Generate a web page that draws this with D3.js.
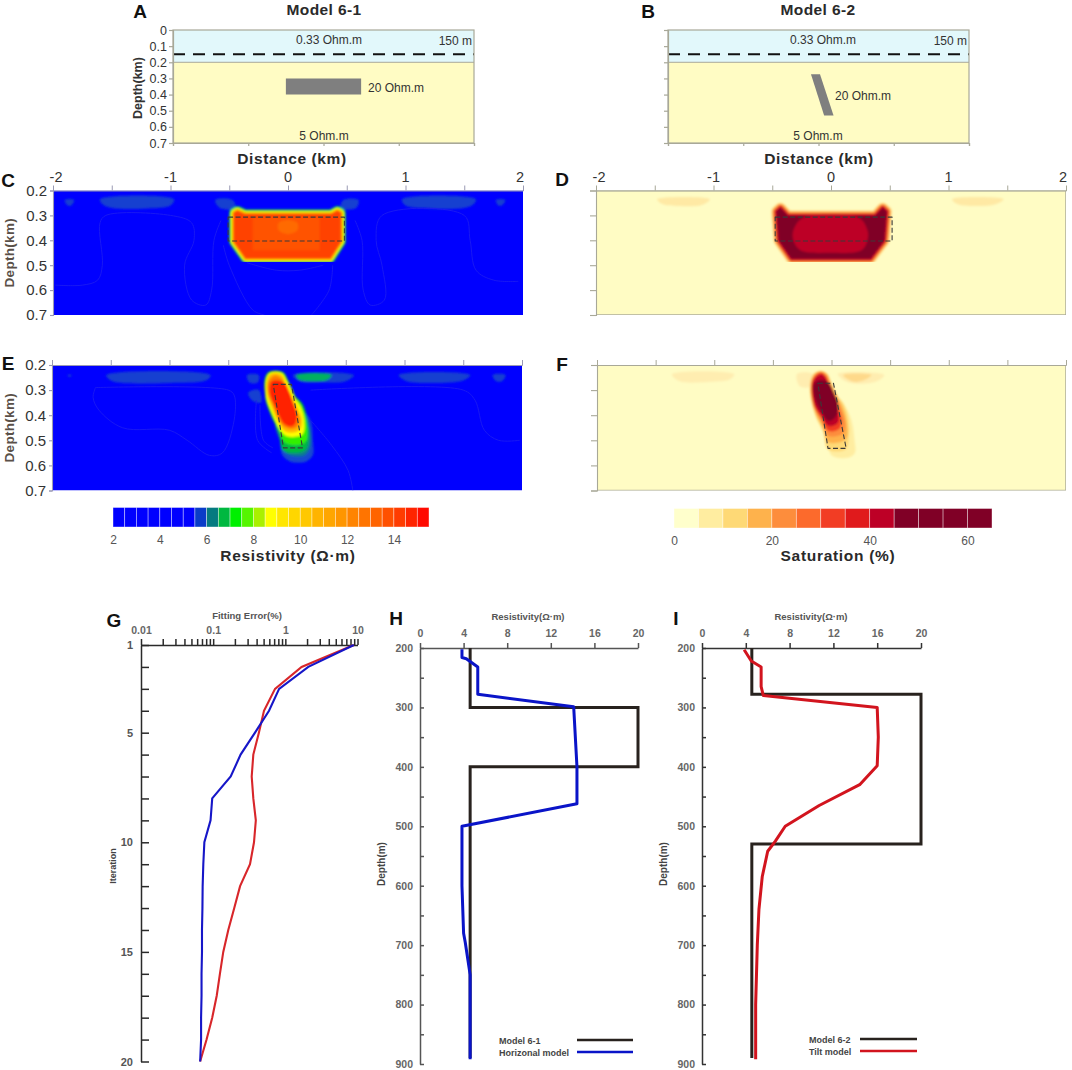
<!DOCTYPE html>
<html><head><meta charset="utf-8">
<script src="https://cdnjs.cloudflare.com/ajax/libs/d3/7.8.5/d3.min.js"></script>
<style>html,body{margin:0;background:#fff}svg{display:block}text{font-family:"Liberation Sans",Arial,sans-serif}</style>
</head><body><svg id="c" width="1072" height="1070"></svg>
<script>
// ---------- data ----------
const depthTicksTop=[0,0.1,0.2,0.3,0.4,0.5,0.6,0.7];
const depthTicksMid=[0.2,0.3,0.4,0.5,0.6,0.7];
const distLabels=[-2,-1,0,1,2];
const distTicks=[-1.5,-1,-0.5,0,0.5,1,1.5];
const modelA=[[-0.5,0.3],[0.5,0.3],[0.5,0.4],[-0.5,0.4]];
const modelB=[[-0.1,0.274],[0.02,0.274],[0.2,0.53],[0.075,0.53]];

const resBins=[2,2.5,3,3.5,4,4.5,5,5.5,6,6.5,7,7.5,8,8.5,9,9.5,10,10.5,11,11.5,12,12.5,13,13.5,14,14.5,15];
const resColors=["#0000ff","#0000ff","#0000ff","#0000ff","#0000ff","#0000ff","#0000ff","#0a3cc8","#057a80","#00b840","#00f000","#55f500","#aaf000","#ffff00","#ffe600","#ffd600","#ffc800","#ffb400","#ffa600","#ff9600","#ff8400","#ff7400","#ff6400","#ff5000","#ff3c00","#ff2400","#ff0a00"];
const resLabels=[2,4,6,8,10,12,14];
const satBins=[0,5,10,15,20,25,30,35,40,45,50,55,60];
const satColors=["#ffffcc","#ffeda0","#fed976","#feb24c","#fd8d3c","#fc6a2c","#f23d24","#e01a1c","#bd0026","#800026","#800026","#800026","#800026"];
const satLabels=[0,20,40,60];

const lensC=[[[-1.9,.238],[-1.82,.238],[-1.85,.262],[-1.88,.258]],
 [[-1.6,.235],[-0.97,.235],[-1.0,.26],[-1.2,.272],[-1.5,.27],[-1.58,.255]],
 [[-0.62,.238],[-0.47,.238],[-0.45,.27],[-0.58,.27]],
 [[0.47,.238],[0.6,.238],[0.58,.27],[0.45,.27]],
 [[0.97,.235],[1.6,.235],[1.58,.255],[1.5,.27],[1.2,.272],[1.0,.26]],
 [[1.77,.238],[1.85,.238],[1.82,.26],[1.79,.26]]];
const coreC=[[-.46,.29],[-.43,.282],[-.37,.295],[.37,.295],[.42,.282],[.45,.29],[.45,.405],[.36,.472],[-.36,.472],[-.46,.405]];
const innerC=[[-.3,.307],[.27,.307],[.27,.44],[-.3,.44]];
const spotC=[[-.08,.33],[0,.318],[.08,.33],[.08,.36],[0,.375],[-.08,.36]];
const coreCBands=[[10,"#00907a"],[8.5,"#00d040"],[7,"#77ff00"],[5.5,"#ffff00"],[4,"#ffc400"],[2.5,"#ff8800"]];
const rectC=[[-.51,.307],[.48,.307],[.48,.403],[-.51,.403]];
const faintC=[
 [[-1.98,.58],[-1.75,.58],[-1.62,.56],[-1.58,.5],[-1.6,.33],[-1.55,.3],[-1,.3],[-.82,.33],[-.8,.4],[-.88,.5],[-.82,.64],[-.7,.66],[-.65,.6],[-.63,.4],[-.57,.32]],
 [[.57,.32],[.63,.4],[.64,.6],[.7,.66],[.82,.64],[.8,.5],[.75,.4],[.8,.3],[1.5,.3],[1.55,.4],[1.6,.52],[1.75,.56],[1.96,.565]],
 [[-.55,.42],[-.5,.5],[-.3,.68],[-.2,.7]],[[.38,.5],[.35,.6],[.2,.7]],[[-.35,.49],[-.1,.52],[.1,.52],[.3,.5]]];
const lensE=[[[-1.87,.24],[-1.83,.24],[-1.85,.248]],
 [[-1.54,.24],[-.65,.24],[-.68,.26],[-1,.272],[-1.4,.272],[-1.5,.262]],
 [[.95,.24],[1.56,.24],[1.5,.262],[1.2,.272],[1.02,.265]],
 [[1.75,.24],[1.86,.24],[1.83,.265],[1.78,.265]],
 [[-.34,.24],[-.24,.24],[-.25,.27],[-.32,.27]],
 [[.05,.24],[.57,.24],[.5,.265],[.3,.27],[.1,.265]],
 [[-.33,.31],[-.24,.3],[-.22,.35],[-.3,.34]]];
const greenE=[[.08,.24],[.38,.24],[.34,.26],[.2,.265],[.1,.258]];
const rectE=[[-.117,.277],[.038,.277],[.132,.53],[-.03,.53]];
const bandE=[
 {c:"#1248d0",g:0,p:[[.03,.34],[.12,.37],[.2,.42],[.22,.5],[.22,.56],[.16,.585],[.03,.585],[-.04,.56],[-.06,.5],[-.1,.42]]},
 {c:"#0c7c90",g:0,p:[[.05,.34],[.12,.38],[.19,.45],[.2,.52],[.15,.56],[.0,.555],[-.04,.52],[-.1,.42]]},
 {c:"#00b840",g:4,p:[[-.10,.23],[-.04,.235],[-.01,.26],[.03,.30],[.06,.33],[.12,.36],[.155,.42],[.165,.5],[.14,.535],[-.02,.535],[-.05,.47],[-.12,.4],[-.165,.34],[-.17,.3],[-.175,.26],[-.15,.235]]},
 {c:"#33f000",g:4,p:[[-.10,.232],[-.045,.238],[-.015,.262],[.025,.30],[.055,.333],[.11,.365],[.145,.42],[.145,.5],[.0,.505],[-.05,.46],[-.12,.39],[-.163,.335],[-.17,.265],[-.145,.238]]},
 {c:"#ffff00",g:4,p:[[-.10,.235],[-.05,.24],[-.02,.265],[.02,.30],[.05,.335],[.10,.37],[.13,.42],[.12,.47],[.0,.475],[-.05,.45],[-.12,.38],[-.16,.33],[-.165,.27],[-.14,.24]]},
 {c:"#ffb800",g:4,p:[[-.10,.24],[-.055,.247],[-.03,.27],[.01,.31],[.04,.34],[.08,.38],[.11,.42],[.09,.455],[.0,.46],[-.05,.43],[-.11,.37],[-.15,.32],[-.155,.27],[-.135,.245]]},
 {c:"#ff7a00",g:4,p:[[-.10,.25],[-.06,.26],[-.035,.28],[.01,.32],[.035,.35],[.07,.39],[.09,.42],[.06,.445],[-.01,.44],[-.06,.41],[-.10,.36],[-.145,.31],[-.145,.27]]},
 {c:"#ff2400",g:4,p:[[-.12,.272],[-.04,.275],[0,.31],[.03,.35],[.065,.40],[.045,.435],[-.01,.43],[-.06,.39],[-.1,.35],[-.13,.31]]}];
const faintE=[
 [[-1.63,.29],[-.5,.3],[-.45,.32],[-.45,.42],[-.55,.55],[-.66,.56],[-.85,.5],[-1.0,.46],[-1.4,.45],[-1.6,.38],[-1.65,.33],[-1.63,.29]],
 [[.2,.3],[1.5,.3],[1.6,.34],[1.68,.46],[1.8,.5],[1.98,.5]],
 [[.2,.42],[.38,.52],[.52,.62],[.56,.7]],
 [[-.26,.34],[-.25,.5],[-.13,.55]],[[-.23,.36],[-.2,.5],[-.12,.53]]];
const lensD=[[[-1.48,.235],[-1.03,.235],[-1.1,.258],[-1.3,.262],[-1.43,.255]],[[1.03,.235],[1.47,.235],[1.4,.255],[1.25,.262],[1.08,.255]]];
const coreD=[[-.46,.285],[-.43,.272],[-.37,.303],[.38,.303],[.44,.272],[.47,.285],[.45,.40],[.335,.472],[-.335,.472],[-.44,.40]];
const coreDBands=[[12,"#ffeda0"],[10,"#feb24c"],[8,"#fd8d3c"],[6,"#ef3b22"],[4,"#c8102a"],[2,"#a00028"]];
const innerD=[[-.24,.31],[-.32,.36],[-.32,.4],[-.26,.44],[0,.45],[.26,.44],[.31,.4],[.31,.36],[.24,.31]];
const rectD=[[-.475,.307],[.52,.307],[.52,.403],[-.475,.403]];
const lensF=[[[-1.36,.237],[-.83,.237],[-.87,.258],[-1.0,.266],[-1.3,.264]],
 [[-.295,.236],[-.16,.236],[-.17,.285],[-.27,.285]],
 [[.054,.236],[.45,.24],[.4,.262],[.25,.275],[.12,.265]]];
const orangeLensF=[[.1,.24],[.34,.24],[.28,.26],[.18,.266]];
const rectF=[[-.116,.273],[.017,.273],[.125,.532],[-.03,.532]];
const bandF=[
 {c:"#ffeda0",g:0,p:[[.04,.33],[.11,.36],[.17,.42],[.196,.5],[.2,.55],[.14,.57],[.0,.56],[-.03,.5],[-.1,.42]]},
 {c:"#fed976",g:4,p:[[-.09,.232],[-.05,.24],[-.02,.27],[.04,.33],[.09,.36],[.13,.42],[.13,.5],[.11,.53],[-.02,.53],[-.05,.47],[-.12,.4],[-.16,.33],[-.165,.27],[-.14,.24]]},
 {c:"#feb24c",g:4,p:[[-.09,.233],[-.05,.242],[-.025,.27],[.035,.33],[.08,.37],[.115,.43],[.11,.49],[-.02,.50],[-.055,.45],[-.12,.39],[-.155,.33],[-.16,.27],[-.135,.242]]},
 {c:"#fd8d3c",g:4,p:[[-.09,.235],[-.055,.245],[-.03,.275],[.03,.335],[.07,.38],[.10,.43],[.09,.465],[-.02,.475],[-.06,.43],[-.12,.38],[-.15,.33],[-.155,.27],[-.13,.245]]},
 {c:"#f23d24",g:4,p:[[-.09,.238],[-.06,.25],[-.035,.28],[.02,.34],[.055,.39],[.07,.425],[.05,.45],[-.02,.455],[-.07,.41],[-.125,.37],[-.148,.33],[-.15,.27],[-.13,.25]]},
 {c:"#bd0026",g:4,p:[[-.09,.245],[-.06,.258],[-.04,.285],[.02,.34],[.04,.39],[.04,.425],[-.02,.435],[-.07,.40],[-.125,.36],[-.145,.32],[-.145,.27]]},
 {c:"#800026",g:4,p:[[-.10,.268],[-.04,.275],[-.0,.31],[.035,.35],[.03,.395],[-.02,.415],[-.06,.39],[-.11,.35],[-.135,.31],[-.135,.28]]}];

const iterTicks=[1,2,3,4,5,6,7,8,9,10,11,12,13,14,15,16,17,18,19,20];
const iterLabels=[1,5,10,15,20];
const errTicks=[.01,.02,.03,.04,.05,.06,.07,.08,.09,.1,.2,.3,.4,.5,.6,.7,.8,.9,1,2,3,4,5,6,7,8,9,10];
const errLabels=[.01,.1,1,10];
const errRed=[8.9,1.68,0.72,0.506,0.43,0.36,0.342,0.36,0.39,0.368,0.324,0.236,0.196,0.162,0.138,0.124,0.112,0.097,0.081,0.066];
const errBlue=[8.9,2.08,0.82,0.594,0.38,0.24,0.175,0.097,0.092,0.0755,0.073,0.0715,0.071,0.07,0.07,0.069,0.069,0.068,0.068,0.066];
const resTicks=[0,4,8,12,16,20];
const depthM=[200,250,300,350,400,450,500,550,600,650,700,750,800,850,900];
const model61=[[4.6,200],[4.6,300],[20,300],[20,400],[4.6,400],[4.6,890]];
const horizontal=[[3.85,202],[3.85,216],[4.25,218],[5.3,232],[5.3,278],[14.1,299],[14.4,400],[14.4,462],[3.85,500],[3.85,600],[4,680],[4.15,695],[4.6,750],[4.6,892]];
const model62=[[4.55,200],[4.55,278],[20,278],[20,530],[4.55,530],[4.55,890]];
const tilt=[[3.85,203],[4.5,222],[5.4,232],[5.4,265],[5.6,280],[16,300],[16.1,350],[16,398],[14.4,430],[10.7,465],[7.6,500],[6.7,525],[6,542],[5.5,585],[5.2,640],[5.05,700],[4.9,800],[4.9,892]];

// ---------- helpers ----------
const svg=d3.select("#c");
const defs=svg.append("defs");
defs.append("filter").attr("id","soft").attr("x","-5%").attr("y","-5%").attr("width","110%").attr("height","110%").append("feGaussianBlur").attr("stdDeviation",0.8);
const TXT="#2a2a2a", GR="#a8a898", PALE="#fffcc4";
function label(x,y,t,o={}){const n=svg.append("text").attr("x",x).attr("y",y).text(t)
 .attr("font-size",o.s||12).attr("font-weight",o.b?"bold":"normal").attr("fill",o.c||TXT)
 .attr("text-anchor",o.a||"middle");
 if(o.ls)n.attr("letter-spacing",o.ls);
 if(o.r)n.attr("transform",`rotate(${o.r} ${x} ${y})`);return n;}
function line(x,y,curve){return d3.line().x(d=>x(d[0])).y(d=>y(d[1])).curve(curve||d3.curveLinear);}
const SMOOTH=d3.curveCatmullRomClosed.alpha(.5);
function poly(g,x,y,p,fill,o={}){return g.append("path").attr("d",line(x,y,o.curve||SMOOTH)(p)).attr("fill",fill).attr("stroke",o.stroke||"none").attr("stroke-width",o.sw||0).attr("stroke-linejoin","round");}
function put(axis,tx,ty,o){const g=svg.append("g").attr("transform",`translate(${tx},${ty})`).call(axis);
 g.selectAll("path,line").attr("stroke",o.c).attr("stroke-width",o.w);
 g.selectAll("text").attr("fill",o.t||TXT).attr("font-size",o.s||11).attr("font-family",'"Liberation Sans",Arial,sans-serif').attr("font-weight",o.b?"bold":"normal");
 return g;}
const fmtOnly=list=>d=>list.includes(d)?String(d):"";

// ---------- A, B ----------
function modelPanel(x0,x1,o){
 const x=d3.scaleLinear().domain([-2,2]).range([x0,x1]);
 const y=d3.scaleLinear().domain([0,.7]).range([30,143]);
 const g=svg.append("g");
 g.append("rect").attr("x",x(-2)).attr("y",y(0)).attr("width",x(2)-x(-2)).attr("height",y(.2)-y(0)).attr("fill","#e2f8fb");
 g.append("rect").attr("x",x(-2)).attr("y",y(.2)).attr("width",x(2)-x(-2)).attr("height",y(.7)-y(.2)).attr("fill",PALE);
 poly(g,x,y,o.rect,"#7f7f7f",{curve:d3.curveLinearClosed});
 g.append("line").attr("x1",x(-2)).attr("x2",x(2)).attr("y1",y(.15)).attr("y2",y(.15)).attr("stroke","#111").attr("stroke-width",2).attr("stroke-dasharray","12 8");
 g.append("rect").attr("x",x(-2)).attr("y",y(0)).attr("width",x(2)-x(-2)).attr("height",y(.7)-y(0)).attr("fill","none").attr("stroke",GR).attr("stroke-width",1.2);
 g.append("line").attr("x1",x(-2)).attr("x2",x(2)).attr("y1",y(.2)).attr("y2",y(.2)).attr("stroke",GR);
 put(d3.axisLeft(y).tickValues(depthTicksTop).tickSize(4).tickPadding(2).tickFormat(o.depthLabels?d=>d:()=>""),x0,0,{c:GR,w:1.2,s:12.5,t:"#333"});
 put(d3.axisBottom(x).tickValues(distLabels).tickSize(3).tickFormat(()=>""),0,143,{c:GR,w:1.2});
 if(o.depthLabels)label(142,88,"Depth(km)",{s:12.5,b:1,r:-90,c:"#333"});
 label(o.tx,15,o.title,{s:15.5,b:1,ls:.4});
 label(o.l33,44,"0.33 Ohm.m",{s:12,c:"#333"});
 label(o.l150,45,"150 m",{s:12,a:"end",c:"#333"});
 label(o.l20x,o.l20y,"20 Ohm.m",{s:12,a:"start",c:"#333"});
 label(o.l5,140,"5 Ohm.m",{s:12,c:"#333"});
 label(o.dx,164,"Distance (km)",{s:15.5,b:1,ls:.6});
}
modelPanel(173,474,{rect:modelA,title:"Model 6-1",tx:324,depthLabels:true,l33:329,l150:472,l20x:368,l20y:92,l5:324,dx:292});
modelPanel(668,969,{rect:modelB,title:"Model 6-2",tx:818,depthLabels:false,l33:823,l150:967,l20x:835,l20y:100,l5:818,dx:819});

// ---------- C D E F ----------
let clipN=0;
function heatPanel(x0,x1,y0,y1,o){
 const x=d3.scaleLinear().domain([-2,2]).range([x0,x1]);
 const y=d3.scaleLinear().domain([.2,.7]).range([y0,y1]);
 const id="clip"+(++clipN);
 defs.append("clipPath").attr("id",id).append("rect").attr("x",x0).attr("y",y0).attr("width",x1-x0).attr("height",y1-y0);
 const outer=svg.append("g").attr("clip-path",`url(#${id})`);
 outer.append("rect").attr("x",x0).attr("y",y0).attr("width",x1-x0).attr("height",y1-y0).attr("fill",o.bg);
 const g=outer.append("g").attr("filter","url(#soft)");
 o.draw(g,x,y,outer);
 const ax=o.axisColor;
 put(d3.axisTop(x).tickValues(distTicks).tickSize(5).tickFormat(()=>""),0,y0,{c:ax,w:1});
 put(d3.axisLeft(y).tickValues(depthTicksMid).tickSize(o.labels?3:6).tickPadding(3).tickFormat(o.labels?d=>d:()=>""),x0,0,{c:ax,w:1.1,s:15,t:"#333"});
 if(o.top)distLabels.forEach(d=>label(Math.min(Math.max(x(d),x0+3),x1-3),182,d,{s:14.5,c:"#333"}));
 if(o.frame)outer.append("rect").attr("x",x0).attr("y",y0).attr("width",x1-x0).attr("height",y1-y0).attr("fill","none").attr("stroke",ax).attr("stroke-width",1.4);
 if(o.labels)label(14,(y0+y1)/2,"Depth(km)",{s:13.5,b:1,r:-90,c:"#5a5048",ls:.3});
 return {x,y};
}
function faint(g,x,y,list){list.forEach(p=>g.append("path").attr("d",line(x,y,d3.curveCatmullRom.alpha(.5))(p)).attr("fill","none").attr("stroke","#1e1ef0").attr("stroke-width",.8));}
function dashed(g,x,y,p){poly(g,x,y,p,"none",{curve:d3.curveLinearClosed,stroke:"#3a3a3a",sw:1.1}).attr("stroke-dasharray","5 2.5");}

heatPanel(53,523,190.5,315,{bg:"#0000ff",axisColor:"#9a9ab4",labels:true,top:true,draw:(g,x,y,outer)=>{
 faint(outer,x,y,faintC);
 lensC.forEach(p=>poly(g,x,y,p,"#1240d0"));
 coreCBands.forEach(b=>poly(g,x,y,coreC,b[1],{curve:d3.curveLinearClosed,stroke:b[1],sw:b[0]}));
 poly(g,x,y,coreC,"#ff4200",{curve:d3.curveLinearClosed,stroke:"#ff5a00",sw:1});
 poly(g,x,y,innerC,"#ff5200",{curve:d3.curveLinearClosed});
 poly(g,x,y,spotC,"#ff6a00");
 dashed(outer,x,y,rectC);
}});
heatPanel(596,1066,190.5,315,{bg:PALE,axisColor:"#a8a898",labels:false,top:true,frame:true,draw:(g,x,y,outer)=>{
 lensD.forEach(p=>poly(g,x,y,p,"#ffe9a4"));
 coreDBands.forEach(b=>poly(g,x,y,coreD,b[1],{curve:d3.curveLinearClosed,stroke:b[1],sw:b[0]}));
 poly(g,x,y,coreD,"#800026",{curve:d3.curveLinearClosed});
 poly(g,x,y,innerD,"#bd0026");
 dashed(outer,x,y,rectD);
}});
heatPanel(52,522,365,490.5,{bg:"#0000ff",axisColor:"#9a9ab4",labels:true,top:false,draw:(g,x,y,outer)=>{
 faint(outer,x,y,faintE);
 lensE.forEach(p=>poly(g,x,y,p,"#1240d0"));
 poly(g,x,y,greenE,"#00b060");
 bandE.forEach(b=>poly(g,x,y,b.p,b.c,{stroke:b.c,sw:b.g}));
 dashed(outer,x,y,rectE);
}});
heatPanel(597,1066,365,490.5,{bg:PALE,axisColor:"#a8a898",labels:false,top:false,frame:true,draw:(g,x,y,outer)=>{
 lensF.forEach(p=>poly(g,x,y,p,"#ffedb0"));
 poly(g,x,y,orangeLensF,"#fed98a");
 bandF.forEach(b=>poly(g,x,y,b.p,b.c,{stroke:b.c,sw:b.g}));
 dashed(outer,x,y,rectF);
}});

// ---------- colour bars ----------
function colorBar(x0,x1,y0,y1,dom,bins,colors,step,labels,title,tx){
 const x=d3.scaleLinear().domain(dom).range([x0,x1]);
 svg.append("g").selectAll("rect").data(bins).join("rect")
  .attr("x",d=>x(d)).attr("y",y0).attr("width",d=>x(d+step)-x(d)).attr("height",y1-y0)
  .attr("fill",(d,i)=>colors[i]).attr("stroke","#ffffff").attr("stroke-opacity",.55).attr("stroke-width",.7);
 const a=put(d3.axisBottom(x).tickValues(labels).tickSize(0).tickPadding(8),0,y1,{c:"none",w:0,s:12,t:"#555"});
 a.select(".domain").remove();
 label(tx,561,title,{s:15.5,b:1,ls:.7});
}
colorBar(113,429,507.5,527,[2,15.5],resBins,resColors,.5,resLabels,"Resistivity (Ω·m)",288);
colorBar(674,992,508.5,528,[0,65],satBins,satColors,5,satLabels,"Saturation (%)",838);

// ---------- G ----------
(function(){
 const x=d3.scaleLog().domain([.01,10]).range([141,357.5]);
 const y=d3.scaleLinear().domain([1,20]).range([645,1061.5]);
 put(d3.axisTop(x).tickValues(errTicks).tickSize(6).tickSizeOuter(0).tickPadding(5).tickFormat(fmtOnly(errLabels)),0,645,{c:"#2a2a2a",w:1.5,s:10.5,t:"#666",b:1});
 put(d3.axisLeft(y).tickValues(iterTicks).tickSizeInner(-8).tickSizeOuter(0).tickPadding(8).tickFormat(fmtOnly(iterLabels)),141,0,{c:"#2a2a2a",w:1.5,s:11,t:"#555",b:1});
 const l=d3.line().x(d=>x(d[0])).y(d=>y(d[1]));
 svg.append("path").attr("d",l(errRed.map((v,i)=>[v,iterTicks[i]]))).attr("fill","none").attr("stroke","#d8262a").attr("stroke-width",2.1);
 svg.append("path").attr("d",l(errBlue.map((v,i)=>[v,iterTicks[i]]))).attr("fill","none").attr("stroke","#1616c8").attr("stroke-width",2.1);
 label(247,619,"Fitting Error(%)",{s:9.5,b:1,c:"#555"});
 label(116,866,"Iteration",{s:9,b:1,r:-90,c:"#444"});
})();

// ---------- H, I ----------
function profile(x0,x1,axc,black,col,colData,o){
 const x=d3.scaleLinear().domain([0,20]).range([x0,x1]);
 const y=d3.scaleLinear().domain([200,900]).range([648,1064]);
 put(d3.axisTop(x).tickValues(resTicks).tickSize(5).tickSizeOuter(0).tickPadding(6),0,648,{c:axc,w:1.5,s:10.5,t:"#666",b:1});
 put(d3.axisLeft(y).tickValues(depthM).tickSizeInner(-4).tickSizeOuter(0).tickPadding(7).tickFormat(d=>d%100===0?d:""),x0,0,{c:axc,w:1.5,s:10.5,t:"#666",b:1});
 const l=line(x,y);
 svg.append("path").attr("d",l(black)).attr("fill","none").attr("stroke","#28221e").attr("stroke-width",3);
 svg.append("path").attr("d",l(colData)).attr("fill","none").attr("stroke",col).attr("stroke-width",3).attr("stroke-linejoin","round");
 label(o.tx,620,"Resistivity(Ω·m)",{s:9.5,b:1,c:"#555"});
 label(o.dx,864,"Depth(m)",{s:10,b:1,r:-90,c:"#444"});
 label(o.lx,o.ly1+4,o.n1,{s:9,b:1,a:"start",c:"#444"});
 label(o.lx,o.ly2+4,o.n2,{s:9,b:1,a:"start",c:"#444"});
 svg.append("line").attr("x1",o.l0).attr("x2",o.l1).attr("y1",o.ly1).attr("y2",o.ly1).attr("stroke","#28221e").attr("stroke-width",2.6);
 svg.append("line").attr("x1",o.l0).attr("x2",o.l1).attr("y1",o.ly2).attr("y2",o.ly2).attr("stroke",col).attr("stroke-width",2.6);
}
profile(420,638,"#555",model61,"#0a14c8",horizontal,{tx:528,dx:385,lx:499,ly1:1040,ly2:1052,n1:"Model 6-1",n2:"Horizonal model",l0:577,l1:633});
profile(702,921,"#333",model62,"#d2141e",tilt,{tx:811,dx:667,lx:809,ly1:1039,ly2:1051,n1:"Model 6-2",n2:"Tilt model",l0:860,l1:917});

// ---------- panel letters ----------
const letters=[["A",140,18],["B",648,18],["C",8,187],["D",562,186],["E",8,370],["F",562,371],["G",114,627],["H",396,625],["I",676,625]];
letters.forEach(d=>label(d[1],d[2],d[0],{s:19,b:1,c:"#111"}));
</script></body></html>
